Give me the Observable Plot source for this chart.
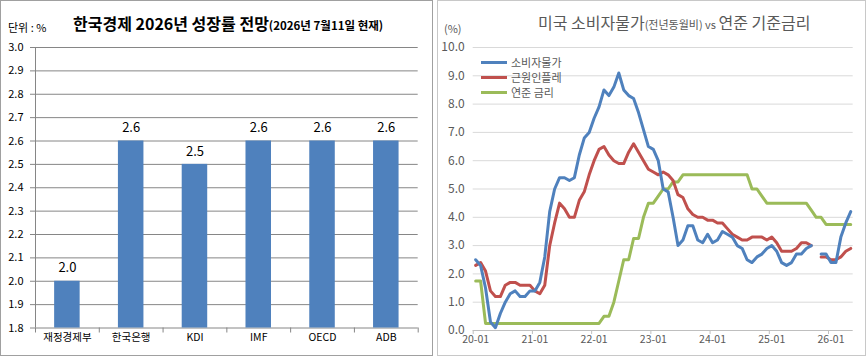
<!DOCTYPE html>
<html><head><meta charset="utf-8">
<script src="https://cdn.jsdelivr.net/npm/d3@7"></script>
<script src="https://cdn.jsdelivr.net/npm/@observablehq/plot@0.6"></script>
<style>
body{margin:0;background:#fff;font-family:"Noto Sans CJK KR","Noto Sans",sans-serif;}
#wrap{position:relative;width:867px;height:359px;overflow:hidden;background:#fff;}
.panel{position:absolute;box-sizing:border-box;}
.abs{position:absolute;white-space:nowrap;line-height:1;}
.leg{position:absolute;left:481px;display:flex;align-items:center;font-size:11px;color:#595959;line-height:11px;height:11px;}
.leg span{line-height:11px;}
.leg span.l{display:inline-block;width:26px;height:3px;margin-right:4px;}
</style></head><body>
<div id="wrap">
  <div class="panel" style="left:0;top:0;width:433px;height:356px;border:1px solid #a0a0a0;"></div>
  <div class="panel" style="left:437px;top:0;width:429px;height:356px;border:1px solid #c8c8c8;"></div>
  <div id="left" class="abs" style="left:0;top:0"></div>
  <div id="right" class="abs" style="left:437px;top:0"></div>
  <div class="abs" style="left:8px;top:22px;font-size:11px;color:#000;">단위 : %</div>
  <div class="abs" style="left:73px;top:14.5px;color:#000;font-weight:bold;"><span style="font-size:16px;">한국경제 2026년 성장률 전망</span><span style="font-size:11.5px;">(2026년 7월11일 현재)</span></div>
  <div class="abs" style="left:538px;top:13.5px;color:#595959;"><span style="font-size:16px;">미국 소비자물가</span><span style="font-size:11px;">(전년동월비) vs </span><span style="font-size:16px;">연준 기준금리</span></div>
  <div class="abs" style="left:444px;top:23px;font-size:11px;color:#595959;">(%)</div>
  <div id="legend"></div>
</div>
<script>
// ---------- Left chart data ----------
const leftCats = ["재정경제부", "한국은행", "KDI", "IMF", "OECD", "ADB"];
const leftVals = [2.0, 2.6, 2.5, 2.6, 2.6, 2.6];
const leftYTicks = [1.8, 1.9, 2.0, 2.1, 2.2, 2.3, 2.4, 2.5, 2.6, 2.7, 2.8, 2.9, 3.0];

// ---------- Right chart data ----------
const months = [
  "20-01","20-02","20-03","20-04","20-05","20-06","20-07","20-08","20-09","20-10","20-11","20-12",
  "21-01","21-02","21-03","21-04","21-05","21-06","21-07","21-08","21-09","21-10","21-11","21-12",
  "22-01","22-02","22-03","22-04","22-05","22-06","22-07","22-08","22-09","22-10","22-11","22-12",
  "23-01","23-02","23-03","23-04","23-05","23-06","23-07","23-08","23-09","23-10","23-11","23-12",
  "24-01","24-02","24-03","24-04","24-05","24-06","24-07","24-08","24-09","24-10","24-11","24-12",
  "25-01","25-02","25-03","25-04","25-05","25-06","25-07","25-08","25-09","25-10","25-11","25-12",
  "26-01","26-02","26-03","26-04","26-05"
];
const cpi = [
  2.5,2.3,1.5,0.3,0.1,0.6,1.0,1.3,1.4,1.2,1.2,1.4,
  1.4,1.7,2.6,4.2,5.0,5.4,5.4,5.3,5.4,6.2,6.8,7.0,
  7.5,7.9,8.5,8.3,8.6,9.1,8.5,8.3,8.2,7.7,7.1,6.5,
  6.4,6.0,5.0,4.9,4.0,3.0,3.2,3.7,3.7,3.2,3.1,3.4,
  3.1,3.2,3.5,3.4,3.3,3.0,2.9,2.5,2.4,2.6,2.7,2.9,
  3.0,2.8,2.4,2.3,2.4,2.7,2.7,2.9,3.0,null,2.7,2.7,
  2.4,2.4,3.3,3.8,4.2
];
const coreCpi = [
  2.3,2.4,2.1,1.4,1.2,1.2,1.6,1.7,1.7,1.6,1.6,1.6,
  1.4,1.3,1.6,3.0,3.8,4.5,4.3,4.0,4.0,4.6,4.9,5.5,
  6.0,6.4,6.5,6.2,6.0,5.9,5.9,6.3,6.6,6.3,6.0,5.7,
  5.6,5.5,5.6,5.5,5.3,4.8,4.7,4.3,4.1,4.0,4.0,3.9,
  3.9,3.8,3.8,3.6,3.4,3.3,3.2,3.2,3.3,3.3,3.3,3.2,
  3.3,3.1,2.8,2.8,2.8,2.9,3.1,3.1,3.0,null,2.6,2.6,
  2.5,2.5,2.6,2.8,2.9
];
const fedRate = [
  1.75,1.75,0.25,0.25,0.25,0.25,0.25,0.25,0.25,0.25,0.25,0.25,
  0.25,0.25,0.25,0.25,0.25,0.25,0.25,0.25,0.25,0.25,0.25,0.25,
  0.25,0.25,0.5,0.5,1.0,1.75,2.5,2.5,3.25,3.25,4.0,4.5,
  4.5,4.75,5.0,5.0,5.25,5.25,5.5,5.5,5.5,5.5,5.5,5.5,
  5.5,5.5,5.5,5.5,5.5,5.5,5.5,5.5,5.0,5.0,4.75,4.5,
  4.5,4.5,4.5,4.5,4.5,4.5,4.5,4.5,4.25,4.0,4.0,3.75,
  3.75,3.75,3.75,3.75,3.75
];
const xTickLabels = ["20-01","21-01","22-01","23-01","24-01","25-01","26-01"];
const rightYTicks = [0,1,2,3,4,5,6,7,8,9,10];
const seriesNames = ["소비자물가", "근원인플레", "연준 금리"];
const seriesColors = ["#4f81bd", "#c0504d", "#9bbb59"];

const FONT = '"Noto Sans CJK KR","Noto Sans",sans-serif';

// ---------- Left chart ----------
(function(){
  const W = 432, H = 356, mL = 35, mR = 14.3, mT = 47, mB = 28.5;
  const plotH = H - mT - mB;
  const BAR = 0.4;
  const rows = leftCats.map((c, i) => ({c, i, v: leftVals[i]}));
  const yDom = [leftYTicks[0], leftYTicks[leftYTicks.length - 1]];
  const chart = Plot.plot({
    width: W, height: H, marginLeft: mL, marginRight: mR, marginTop: mT, marginBottom: mB,
    style: {fontFamily: FONT, background: "transparent", overflow: "visible"},
    x: {domain: [0, leftCats.length], axis: null},
    y: {domain: yDom, axis: null},
    marks: [
      Plot.ruleY(leftYTicks, {stroke: "#868686", strokeWidth: 1, insetLeft: -5}),
      Plot.ruleX([0], {stroke: "#868686", strokeWidth: 1}),
      Plot.ruleX(d3.range(leftCats.length + 1), {stroke: "#868686", insetTop: plotH, insetBottom: -5}),
      Plot.rectY(rows, {x1: d => d.i + (1 - BAR) / 2, x2: d => d.i + (1 + BAR) / 2, y1: () => yDom[0], y2: "v", fill: "#4f81bd"}),
      Plot.text(rows, {x: d => d.i + 0.5, y: "v", text: d => d.v.toFixed(1), dy: -13, fontSize: 13, fill: "#000"}),
      Plot.text(leftYTicks, {y: d => d, text: d => d.toFixed(1), frameAnchor: "left", textAnchor: "end", dx: -12, fontSize: 11, fill: "#000"}),
      Plot.text(rows, {x: d => d.i + 0.5, text: "c", frameAnchor: "bottom", dy: 13, fontSize: 10.5, fill: "#000"})
    ]
  });
  document.getElementById("left").appendChild(chart);
})();

// ---------- Right chart ----------
(function(){
  const W = 428.5, H = 356, mL = 35.7, mR = 12.8, mT = 47, mB = 26;
  const plotH = H - mT - mB;
  const rows = months.map((m, i) => ({m, i, cpi: cpi[i], core: coreCpi[i], fed: fedRate[i]}));
  const tickIdx = xTickLabels.map(l => months.indexOf(l));
  const boundaries = tickIdx.map(i => i - 0.5);
  const chart = Plot.plot({
    width: W, height: H, marginLeft: mL, marginRight: mR, marginTop: mT, marginBottom: mB,
    style: {fontFamily: FONT, background: "transparent", overflow: "visible"},
    x: {domain: [-0.5, months.length - 0.5], axis: null},
    y: {domain: [rightYTicks[0], rightYTicks[rightYTicks.length - 1]], axis: null},
    marks: [
      Plot.ruleY(rightYTicks.slice(1), {stroke: "#d9d9d9", strokeWidth: 1}),
      Plot.ruleY([rightYTicks[0]], {stroke: "#bfbfbf", strokeWidth: 1}),
      Plot.ruleX(boundaries, {stroke: "#bfbfbf", insetTop: plotH, insetBottom: -4}),
      Plot.line(rows, {x: "i", y: "fed", stroke: seriesColors[2], strokeWidth: 3, strokeLinejoin: "round"}),
      Plot.line(rows, {x: "i", y: "core", stroke: seriesColors[1], strokeWidth: 3, strokeLinejoin: "round"}),
      Plot.line(rows, {x: "i", y: "cpi", stroke: seriesColors[0], strokeWidth: 3, strokeLinejoin: "round"}),
      Plot.text(rightYTicks, {y: d => d, text: d => d.toFixed(1), frameAnchor: "left", textAnchor: "end", dx: -8.5, fontSize: 12, fill: "#595959"}),
      Plot.text(tickIdx, {x: d => d, text: d => months[d], frameAnchor: "bottom", dy: 12, fontSize: 10.5, fill: "#595959"})
    ]
  });
  document.getElementById("right").appendChild(chart);
})();

// ---------- Legend ----------
(function(){
  const legend = document.getElementById("legend");
  const centers = [62, 77, 92];
  seriesNames.forEach((n, k) => {
    const row = document.createElement("div");
    row.className = "leg";
    row.style.top = (centers[k] - 5.5) + "px";
    row.innerHTML = `<span class="l" style="background:${seriesColors[k]}"></span><span>${n}</span>`;
    legend.appendChild(row);
  });
})();
</script>
</body></html>
